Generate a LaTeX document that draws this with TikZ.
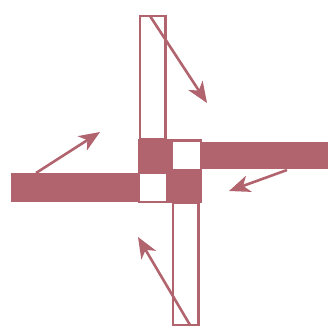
\documentclass[tikz,border=0pt]{standalone}
\usepackage{xcolor}
\usepackage{tikz}
\usetikzlibrary{arrows.meta}
\definecolor{rose}{RGB}{178,100,110}

\begin{document}
\begin{tikzpicture}[x=1pt,y=-1pt,
    bar/.style={draw=rose,line width=2.2pt},
    push/.style={rose,line width=2.6pt,-{Stealth[length=21pt,width=17pt,inset=6pt]}}]
  \useasboundingbox (0,0) rectangle (328,327);
  % filled arms
  \fill[rose] (11,173) rectangle (139,201.5);
  \fill[rose] (201,142) rectangle (328,169);
  % hollow arms
  \draw[bar] (140,16) rectangle (165.5,139);
  \draw[bar] (173,203) rectangle (198.5,325);
  % centre block with two open squares
  \fill[rose] (138,139) rectangle (202,203);
  \fill[white] (172.5,141.5) rectangle (199.5,168.5);
  \fill[white] (140,173.5) rectangle (166,201);
  % arrows
  \coordinate (t0) at (150,16);   \coordinate (t1) at (207,103);
  \coordinate (l0) at (36,173);   \coordinate (l1) at (100,132);
  \coordinate (r0) at (287,170);  \coordinate (r1) at (229,191);
  \coordinate (b0) at (190,325);  \coordinate (b1) at (138,237);
  \foreach \p in {t,l,r,b}
    \draw[push] (\p0) -- (\p1);
\end{tikzpicture}
\end{document}
